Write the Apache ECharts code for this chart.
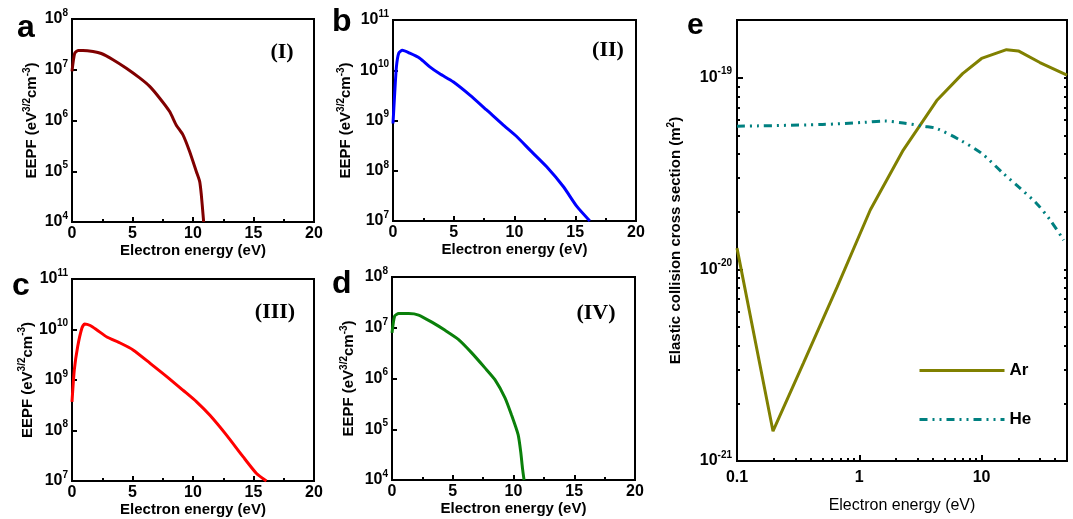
<!DOCTYPE html>
<html>
<head>
<meta charset="utf-8">
<script src="https://cdn.jsdelivr.net/npm/echarts@6/dist/echarts.min.js"></script>
<style>
  html, body { margin: 0; padding: 0; background: #fff; }
  #chart { width: 1073px; height: 519px; }
</style>
</head>
<body>
<div id="chart"></div>
<script>
// EEPF panels (eV^3/2 cm^-3) vs electron energy (eV)
var energyA = [0, 0.22, 0.5, 0.9, 1.74, 2.42, 3.39, 4.49, 5.59, 6.42, 7.25, 8.07, 8.62, 9.17, 9.72, 10.28, 10.55, 10.69, 10.83, 10.88];
var eepfA = [9.3e6, 2.1e7, 2.4e7, 2.4e7, 2.29e7, 2.09e7, 1.58e7, 1.07e7, 6.9e6, 4.7e6, 2.75e6, 1.5e6, 8.1e5, 5.2e5, 2.45e5, 9.8e4, 6.3e4, 3.4e4, 1.4e4, 1.0e4];

var energyB = [0, 0.14, 0.28, 0.47, 0.77, 1.38, 2.2, 3.03, 3.85, 4.95, 6.33, 7.7, 9.08, 10.18, 11.28, 12.65, 14.03, 15.13, 16.2];
var eepfB = [8.7e8, 3.5e9, 1.17e10, 2.19e10, 2.5e10, 2.19e10, 1.74e10, 1.17e10, 8.5e9, 5.9e9, 3.2e9, 1.62e9, 8.1e8, 4.8e8, 2.57e8, 1.2e8, 4.8e7, 1.95e7, 1.0e7];

var energyC = [0, 0.19, 0.47, 0.82, 1.04, 1.51, 2.06, 2.88, 3.98, 5.08, 6.46, 7.83, 9.2, 10.3, 11.4, 12.77, 14.15, 15.25, 16.07];
var eepfC = [3.7e8, 1.58e9, 4.6e9, 1.07e10, 1.29e10, 1.2e10, 9.8e9, 7.1e9, 5.4e9, 3.9e9, 2.14e9, 1.17e9, 6.2e8, 3.7e8, 2.0e8, 8.1e7, 3.0e7, 1.41e7, 1.0e7];

var energyD = [0, 0.22, 0.55, 1.37, 2.19, 3.28, 4.37, 5.46, 6.56, 7.65, 8.47, 9.29, 9.84, 10.38, 10.6, 10.74, 10.87];
var eepfD = [7.9e6, 1.7e7, 1.9e7, 1.9e7, 1.78e7, 1.29e7, 8.9e6, 5.9e6, 3.2e6, 1.62e6, 9.5e5, 4.2e5, 1.9e5, 7.8e4, 3.5e4, 1.7e4, 1.0e4];

// panel e: elastic collision cross section, in units of 1e-21 m^2
var energyAr = [0.1, 0.197, 0.35, 0.66, 1.23, 2.29, 4.3, 7, 10, 16, 20, 30, 50];
var crossAr = [12.9, 1.43, 3.25, 8.1, 20.4, 41.9, 76, 105, 126, 140, 138, 120, 103];
var energyHe = [0.1, 0.5, 1.09, 1.6, 2.29, 3.4, 4.3, 6.7, 10, 15.1, 20, 28.3, 36.4, 47];
var crossHe = [55.8, 57, 58.5, 59.4, 58, 55.8, 54.3, 47.2, 40.3, 31.6, 27, 22, 18.1, 14.2];

var panelLetters = ['a', 'b', 'c', 'd', 'e'];
var panelTags = ['(I)', '(II)', '(III)', '(IV)'];

function zip(xs, ys) {
  return xs.map(function (x, i) { return [x, ys[i]]; });
}

var FONT = 'Liberation Sans, Arial, sans-serif';
var supRich = {
  n: { fontFamily: FONT, fontWeight: 'bold', fontSize: 15, lineHeight: 20, color: '#000' },
  sup: { fontFamily: FONT, fontWeight: 'bold', fontSize: 10, lineHeight: 10, verticalAlign: 'top', color: '#000' }
};
var tickRich = {
  n: { fontFamily: FONT, fontWeight: 'bold', fontSize: 16, lineHeight: 22, color: '#000' },
  sup: { fontFamily: FONT, fontWeight: 'bold', fontSize: 10, lineHeight: 10, verticalAlign: 'top', color: '#000' }
};

function powLabel(v) {
  var e = Math.round(Math.log10(v));
  return '{n|10}{sup|' + e + '}';
}

var grids = [
  { left: 72, top: 19, width: 242, height: 203 },
  { left: 393, top: 20, width: 243, height: 201 },
  { left: 72, top: 279, width: 242, height: 202 },
  { left: 392, top: 277, width: 243, height: 203 },
  { left: 737, top: 20, width: 330, height: 442 }
];
grids.forEach(function (g) {
  g.show = true;
  g.borderColor = '#000';
  g.borderWidth = 2;
  g.containLabel = false;
});

var eepfName = '{n|EEPF (eV}{sup|3/2}{n|cm}{sup|-3}{n|)}';
var xNameGaps = [13, 14, 11, 12];
var yNameGaps = [30, 37, 30, 33];
var yRanges = [[1e4, 1e8], [1e7, 1e11], [1e7, 1e11], [1e4, 1e8]];
var blackLine = { color: '#000', width: 2 };

var xAxes = [];
var yAxes = [];
for (var i = 0; i < 4; i++) {
  xAxes.push({
    type: 'value', gridIndex: i, min: 0, max: 20, interval: 5,
    name: 'Electron energy (eV)', nameLocation: 'middle', nameGap: xNameGaps[i],
    nameTextStyle: { fontFamily: FONT, fontWeight: 'bold', fontSize: 15, color: '#000' },
    axisLine: { onZero: false, lineStyle: blackLine },
    axisTick: { inside: true, length: 5, lineStyle: blackLine },
    minorTick: { show: true, splitNumber: 2, length: 3, lineStyle: blackLine },
    axisLabel: { margin: 4, fontFamily: FONT, fontWeight: 'bold', fontSize: 16, color: '#000' },
    splitLine: { show: false }
  });
  yAxes.push({
    type: 'log', logBase: 10, gridIndex: i, min: yRanges[i][0], max: yRanges[i][1],
    name: eepfName, nameLocation: 'middle', nameGap: yNameGaps[i], nameRotate: 90,
    nameTextStyle: { rich: supRich },
    axisLine: { onZero: false, lineStyle: blackLine },
    axisTick: { inside: true, length: 5, lineStyle: blackLine },
    axisLabel: { margin: 4, formatter: powLabel, rich: tickRich },
    splitLine: { show: false }
  });
}

// panel e main axes
xAxes.push({
  type: 'log', logBase: 10, gridIndex: 4, min: 0.1, max: 50,
  name: 'Electron energy (eV)', nameLocation: 'middle', nameGap: 37,
  nameTextStyle: { fontFamily: FONT, fontSize: 16, color: '#000' },
  axisLine: { onZero: false, lineStyle: blackLine },
  axisTick: { inside: true, length: 6, lineStyle: blackLine },
  axisLabel: {
    margin: 9, fontFamily: FONT, fontWeight: 'bold', fontSize: 16, color: '#000',
    formatter: function (v) {
      var l = Math.log10(v);
      if (Math.abs(l - Math.round(l)) > 1e-6) return '';
      return String(+v.toPrecision(3));
    }
  },
  splitLine: { show: false }
});
yAxes.push({
  type: 'log', logBase: 10, gridIndex: 4, min: 1, max: 200,
  name: '{n|Elastic collision cross section (m}{sup|2}{n|)}', nameLocation: 'middle', nameGap: 51, nameRotate: 90,
  nameTextStyle: { rich: supRich },
  axisLine: { onZero: false, lineStyle: blackLine },
  axisTick: { inside: true, length: 6, lineStyle: blackLine },
  axisLabel: {
    margin: 5, rich: tickRich,
    formatter: function (v) {
      var l = Math.log10(v);
      if (Math.abs(l - Math.round(l)) > 1e-6) return '';
      return '{n|10}{sup|' + (Math.round(l) - 21) + '}';
    }
  },
  splitLine: { show: false }
});

// minor log ticks for panel e, drawn on plain value axes in decade units
var minorX = [];
[-1, 0, 1].forEach(function (d) {
  for (var k = 2; k <= 9; k++) {
    var v = d + Math.log10(k);
    if (v < Math.log10(50)) minorX.push(v);
  }
});
var minorY = [];
[0, 1, 2].forEach(function (d) {
  for (var k = 2; k <= 9; k++) {
    var v = d + Math.log10(k);
    if (v < Math.log10(200)) minorY.push(v);
  }
});
var tickOnly = function (extra) {
  var a = {
    type: 'value', gridIndex: 4,
    axisLine: { show: false, onZero: false }, axisLabel: { show: false }, splitLine: { show: false }
  };
  for (var key in extra) a[key] = extra[key];
  return a;
};
xAxes.push(tickOnly({
  min: -1, max: Math.log10(50), position: 'bottom',
  axisTick: { inside: true, length: 3, customValues: minorX, lineStyle: blackLine }
}));
yAxes.push(tickOnly({
  min: 0, max: Math.log10(200), position: 'left',
  axisTick: { inside: true, length: 3, customValues: minorY, lineStyle: blackLine }
}));
yAxes.push(tickOnly({
  min: 0, max: Math.log10(200), position: 'right',
  axisTick: { inside: true, length: 3, customValues: minorY.concat([0, 1, 2]), lineStyle: blackLine }
}));

var eepfColors = ['#800000', '#0000ff', '#ff0000', '#0a800a'];
var eepfSets = [[energyA, eepfA], [energyB, eepfB], [energyC, eepfC], [energyD, eepfD]];
var series = eepfSets.map(function (s, i) {
  return {
    type: 'line', xAxisIndex: i, yAxisIndex: i,
    data: zip(s[0], s[1]),
    symbol: 'none', smooth: 0.2,
    lineStyle: { color: eepfColors[i], width: 3 },
    itemStyle: { color: eepfColors[i] },
    animation: false
  };
});
series.push({
  name: 'Ar', type: 'line', xAxisIndex: 4, yAxisIndex: 4,
  data: zip(energyAr, crossAr), symbol: 'none', smooth: false,
  lineStyle: { color: '#808000', width: 3 }, itemStyle: { color: '#808000' },
  animation: false
});
series.push({
  name: 'He', type: 'line', xAxisIndex: 4, yAxisIndex: 4,
  data: zip(energyHe, crossHe), symbol: 'none', smooth: 0.3,
  lineStyle: { color: '#008080', width: 3, type: [8, 5, 2, 5, 2, 5] }, itemStyle: { color: '#008080' },
  animation: false
});

var letterPos = [[17, 28, 32], [332, 22, 32], [12, 286, 32], [332, 284, 32], [687, 26, 30]];
var tagPos = [[282, 52], [608, 50], [275, 312], [596, 313]];
var graphics = [];
panelLetters.forEach(function (t, i) {
  graphics.push({
    type: 'text', style: {
      text: t, x: letterPos[i][0], y: letterPos[i][1], verticalAlign: 'middle',
      font: 'bold ' + letterPos[i][2] + 'px ' + FONT, fill: '#000'
    }
  });
});
panelTags.forEach(function (t, i) {
  graphics.push({
    type: 'text', style: {
      text: t, x: tagPos[i][0], y: tagPos[i][1], align: 'center', verticalAlign: 'middle',
      font: 'bold 22px "Liberation Serif", "Times New Roman", serif', fill: '#000'
    }
  });
});

var chart = echarts.init(document.getElementById('chart'), null, { renderer: 'canvas' });
chart.setOption({
  backgroundColor: '#fff',
  animation: false,
  grid: grids,
  xAxis: xAxes,
  yAxis: yAxes,
  legend: {
    data: ['Ar', 'He'], orient: 'vertical', left: 913, top: 357,
    itemWidth: 85, itemHeight: 14, itemGap: 32,
    itemStyle: { opacity: 0 },
    lineStyle: { width: 3 },
    textStyle: { fontFamily: FONT, fontWeight: 'bold', fontSize: 17, color: '#000' }
  },
  series: series,
  graphic: graphics
});
</script>
</body>
</html>
